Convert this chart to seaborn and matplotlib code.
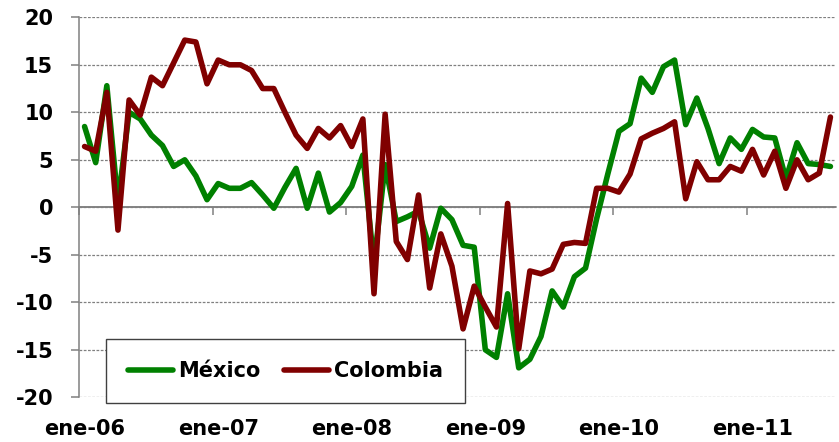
import numpy as np
import pandas as pd
import matplotlib
matplotlib.use("Agg")
import matplotlib.pyplot as plt
from matplotlib.lines import Line2D
import seaborn as sns

# Monthly year-on-year variation (%), January 2006 - August 2011
mexico = [
    8.5, 4.7, 12.8, 0.5, 10.0, 9.3, 7.6, 6.5, 4.3, 5.0, 3.3, 0.8,
    2.5, 2.0, 2.0, 2.6, 1.3, -0.1, 2.1, 4.1, -0.1, 3.6, -0.5, 0.5,
    2.2, 5.5, -6.0, 4.5, -1.5, -1.0, -0.4, -4.3, -0.1, -1.3, -4.0, -4.2,
    -15.0, -15.8, -9.1, -16.9, -16.0, -13.6, -8.8, -10.5, -7.3, -6.4, -1.2, 3.5,
    8.0, 8.8, 13.6, 12.1, 14.8, 15.5, 8.7, 11.5, 8.3, 4.6, 7.3, 6.1,
    8.2, 7.4, 7.3, 3.0, 6.8, 4.6, 4.5, 4.3,
]
colombia = [
    6.4, 5.9, 12.1, -2.4, 11.3, 9.7, 13.7, 12.8, 15.2, 17.6, 17.4, 13.0,
    15.5, 15.0, 15.0, 14.4, 12.5, 12.5, 10.0, 7.6, 6.2, 8.3, 7.3, 8.6,
    6.4, 9.3, -9.1, 9.8, -3.6, -5.5, 1.3, -8.5, -2.8, -6.2, -12.8, -8.3,
    -10.5, -12.6, 0.4, -14.9, -6.7, -7.0, -6.5, -3.9, -3.7, -3.8, 2.0, 2.0,
    1.6, 3.5, 7.2, 7.8, 8.3, 9.0, 0.9, 4.8, 2.9, 2.9, 4.3, 3.8,
    6.1, 3.4, 5.9, 2.0, 5.0, 2.9, 3.6, 9.5,
]
series_names = ["México", "Colombia"]
series_colors = ["#008000", "#800000"]
tick_labels = ["ene-06", "ene-07", "ene-08", "ene-09", "ene-10", "ene-11"]

n = len(mexico)
month = np.arange(n)
df = pd.DataFrame({
    "mes": np.concatenate([month, month]),
    "valor": mexico + colombia,
    "pais": [series_names[0]] * n + [series_names[1]] * n,
})

sns.set_style("white")
plt.rcParams["font.family"] = ["DejaVu Sans"]
plt.rcParams["font.weight"] = "bold"
plt.rcParams["axes.unicode_minus"] = False
plt.rcParams["text.color"] = "black"

W, H = 839, 442
fig = plt.figure(figsize=(W / 100, H / 100), dpi=100)
ax = fig.add_axes([79 / W, 1 - 397.3 / H, 757 / W, 380 / H])

sns.lineplot(data=df, x="mes", y="valor", hue="pais", hue_order=series_names,
             palette=dict(zip(series_names, series_colors)), linewidth=4,
             ax=ax, legend=False, zorder=3)
for ln in ax.get_lines():
    ln.set_solid_joinstyle("round")
    ln.set_solid_capstyle("round")

grid_gray = "#808080"
ax.set_xlim(-0.5, n - 0.5)
ax.set_ylim(-20, 20)
ax.set_yticks(np.arange(-20, 21, 5))
ax.yaxis.grid(True, linestyle=(0, (2.2, 1.2)), color=grid_gray, linewidth=0.9)
ax.xaxis.grid(False)
ax.set_axisbelow(True)
ax.axhline(0, color=grid_gray, linewidth=1.1, zorder=1.5)

for side in ("top", "right", "bottom"):
    ax.spines[side].set_visible(False)
ax.spines["left"].set_color(grid_gray)
ax.spines["left"].set_linewidth(1.1)

ax.tick_params(axis="y", left=True, direction="out", length=6, width=1.1,
               color=grid_gray, pad=12.5, labelsize=15, labelcolor="black")
ax.set_xticks(np.arange(0, n, 12))
ax.set_xticklabels(tick_labels)
ax.tick_params(axis="x", bottom=True, length=0, pad=15.5, labelsize=15,
               labelcolor="black")
ax.set_xlabel("")
ax.set_ylabel("")

# year separators on the zero line
sec = ax.secondary_xaxis(0.5)
sec.set_alignment("bottom")
sec.set_xticks(np.arange(-0.5, n, 12))
sec.set_xticklabels([])
sec.tick_params(axis="x", bottom=True, direction="out", length=6, width=1.1,
                color=grid_gray)
sec.spines["bottom"].set_color(grid_gray)
sec.spines["bottom"].set_linewidth(1.1)

handles = [Line2D([], [], color=c, linewidth=4) for c in series_colors]
leg = ax.legend(handles, series_names, ncol=2, loc="lower left",
                bbox_to_anchor=(106 / W, 39 / H), bbox_transform=fig.transFigure,
                frameon=True, fancybox=False, framealpha=1, edgecolor="#404040",
                facecolor="white", handlelength=2.15, handletextpad=0.25,
                columnspacing=1.15, borderpad=1.05, borderaxespad=0,
                prop={"weight": "bold", "size": 15})
leg.get_frame().set_linewidth(1.0)
for t in leg.get_texts():
    t.set_color("black")
leg.set_zorder(5)

fig.savefig("out.png", dpi=100)
